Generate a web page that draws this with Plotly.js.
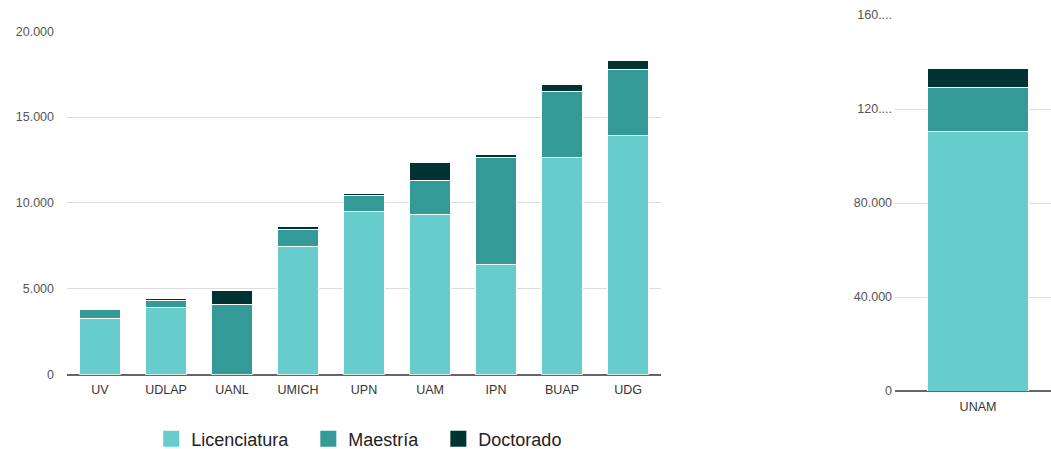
<!DOCTYPE html>
<html>
<head>
<meta charset="utf-8">
<script src="https://cdn.plot.ly/plotly-3.0.1.min.js"></script>
<style>html,body{margin:0;padding:0;background:#fff;}#chart{width:1051px;height:449px;}</style>
</head>
<body>
<div id="chart"></div>
<script>
const categories = ['UV','UDLAP','UANL','UMICH','UPN','UAM','IPN','BUAP','UDG'];
const licenciatura = [3250, 3920, 0, 7450, 9510, 9310, 6440, 12670, 13950];
const maestria = [550, 390, 4110, 1010, 930, 2020, 6190, 3800, 3800];
const doctorado = [80, 150, 780, 150, 80, 1010, 200, 440, 550];

const categoriesBig = ['UNAM'];
const licenciaturaBig = [110300];
const maestriaBig = [18900];
const doctoradoBig = [8100];

const seriesNames = ['Licenciatura', 'Maestría', 'Doctorado'];
const seriesColors = ['#67cdcc', '#349a97', '#023333'];

const leftTickVals = [0, 5000, 10000, 15000, 20000];
const leftTickText = ['0', '5.000', '10.000', '15.000', '20.000'];
const rightTickVals = [0, 40000, 80000, 120000, 160000];
const rightTickText = ['0', '40.000', '80.000', '120....', '160....'];

const leftSeries = [licenciatura, maestria, doctorado];
const rightSeries = [licenciaturaBig, maestriaBig, doctoradoBig];

const traces = [];
leftSeries.forEach((vals, i) => {
  traces.push({
    type: 'bar', x: categories, y: vals, name: seriesNames[i],
    legendgroup: seriesNames[i], showlegend: false,
    marker: {color: seriesColors[i], line: {color: '#ffffff', width: 1}},
    xaxis: 'x', yaxis: 'y', hoverinfo: 'x+y+name'
  });
});
rightSeries.forEach((vals, i) => {
  traces.push({
    type: 'bar', x: categoriesBig, y: vals, name: seriesNames[i],
    legendgroup: seriesNames[i], showlegend: false,
    marker: {color: seriesColors[i], line: {color: '#ffffff', width: 1}},
    xaxis: 'x2', yaxis: 'y2', hoverinfo: 'x+y+name'
  });
});
// legend-only entries (larger square swatches); trailing no-break spaces widen the gap between entries
const legendPad = ['\u00a0\u00a0\u00a0', '\u00a0\u00a0\u00a0', ''];
seriesNames.forEach((nm, i) => {
  traces.push({
    type: 'scatter', mode: 'markers', x: [null], y: [null], name: nm + legendPad[i],
    legendgroup: nm, showlegend: true,
    marker: {symbol: 'square', size: 16, color: seriesColors[i]},
    xaxis: 'x', yaxis: 'y', hoverinfo: 'skip'
  });
});

const tickFont = {family: '"Liberation Sans", Arial, sans-serif', size: 12.5, color: '#555555'};
const catFont = {family: '"Liberation Sans", Arial, sans-serif', size: 12.5, color: '#333333'};

const layout = {
  width: 1051, height: 449,
  margin: {l: 67, r: 0, t: 15, b: 58},
  paper_bgcolor: '#ffffff', plot_bgcolor: '#ffffff',
  barmode: 'stack', bargap: 0.39,
  showlegend: true,
  legend: {
    orientation: 'h', x: 0.297, xanchor: 'center',
    yref: 'container', y: 0.022, yanchor: 'middle',
    font: {family: '"Liberation Sans", Arial, sans-serif', size: 18, color: '#222222'},
    itemclick: false, itemdoubleclick: false
  },
  xaxis: {
    domain: [0, 0.6037], type: 'category', showgrid: false, showline: false,
    ticks: '', tickfont: catFont, ticklabelstandoff: 6, fixedrange: true
  },
  yaxis: {
    domain: [0.0434, 0.957], range: [0, 20000], tickmode: 'array',
    tickvals: leftTickVals, ticktext: leftTickText, tickfont: tickFont,
    showgrid: true, gridcolor: '#dddddd', gridwidth: 1,
    zeroline: true, zerolinecolor: '#666666', zerolinewidth: 2,
    ticks: '', ticklabelstandoff: 12, fixedrange: true
  },
  xaxis2: {
    domain: [0.8415, 1], type: 'category', range: [-0.5, 0.4398], anchor: 'y2',
    showgrid: false, showline: false, ticks: '', tickfont: catFont,
    ticklabelstandoff: 6, fixedrange: true
  },
  yaxis2: {
    domain: [0, 1], range: [0, 160000], anchor: 'x2', tickmode: 'array',
    tickvals: rightTickVals, ticktext: rightTickText, tickfont: tickFont,
    showgrid: true, gridcolor: '#dddddd', gridwidth: 1,
    zeroline: true, zerolinecolor: '#666666', zerolinewidth: 2,
    ticks: '', ticklabelstandoff: 2, fixedrange: true
  }
};

Plotly.newPlot('chart', traces, layout, {displayModeBar: false});
</script>
</body>
</html>
